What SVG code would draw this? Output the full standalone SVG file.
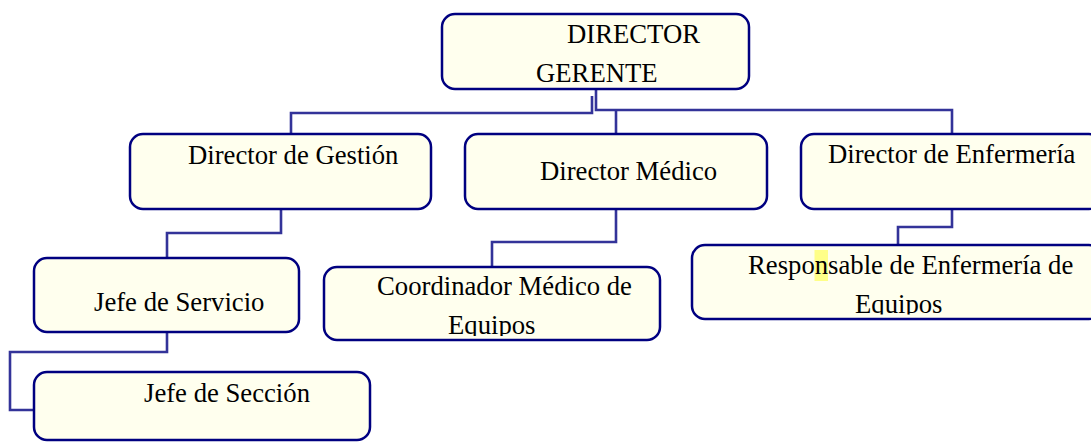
<svg xmlns="http://www.w3.org/2000/svg" width="1091" height="442" viewBox="0 0 1091 442">
  <style>
    .box { fill: #FFFFEE; stroke: #000080; stroke-width: 2.5; }
    .lbl { font-family: "Liberation Serif", "Times New Roman", serif; font-size: 26.7px; fill: #000000; }
    .conn { fill: none; stroke: #333399; stroke-width: 2.6; }
  </style>
  <defs>
    <clipPath id="clipCoord"><rect x="324" y="267" width="336" height="69"/></clipPath>
    <clipPath id="clipResp"><rect x="692" y="245" width="410" height="69.5"/></clipPath>
  </defs>
  <rect width="1091" height="442" fill="#FFFFFF"/>

  <g id="connectors">
    <path class="conn" d="M596,89 V110 H952 V134"/>
    <path class="conn" d="M616,110 V134"/>
    <path class="conn" d="M592,96 V113 H291 V134"/>
    <path class="conn" d="M281,209 V233 H167 V258"/>
    <path class="conn" d="M167,332 V352 H10 V410 H34"/>
    <path class="conn" d="M616,209 V242 H492 V267"/>
    <path class="conn" d="M952,209 V227 H898 V245"/>
  </g>

  <g id="director-gerente">
    <rect class="box" x="442" y="14" width="307" height="75" rx="13"/>
    <text class="lbl" x="567" y="43">DIRECTOR</text>
    <text class="lbl" x="536" y="82">GERENTE</text>
  </g>

  <g id="director-gestion">
    <rect class="box" x="130" y="134" width="301" height="75" rx="13"/>
    <text class="lbl" x="188" y="164">Director de Gestión</text>
  </g>

  <g id="director-medico">
    <rect class="box" x="465" y="134" width="302" height="75" rx="13"/>
    <text class="lbl" x="540" y="180">Director Médico</text>
  </g>

  <g id="director-enfermeria">
    <rect class="box" x="801" y="134" width="301" height="75" rx="13"/>
    <text class="lbl" x="828" y="163">Director de Enfermería</text>
  </g>

  <g id="jefe-servicio">
    <rect class="box" x="34" y="258" width="265" height="74" rx="13"/>
    <text class="lbl" x="94" y="311">Jefe de Servicio</text>
  </g>

  <g id="coordinador-medico">
    <rect class="box" x="324" y="267" width="336" height="73" rx="13"/>
    <g clip-path="url(#clipCoord)">
      <text class="lbl" x="377" y="295">Coordinador Médico de</text>
      <text class="lbl" x="448" y="334">Equipos</text>
    </g>
  </g>

  <g id="responsable-enfermeria">
    <rect class="box" x="692" y="245" width="410" height="74" rx="13"/>
    <rect x="814.5" y="250" width="13.5" height="31" fill="#FFFF88"/>
    <g clip-path="url(#clipResp)">
      <text class="lbl" x="748" y="274">Responsable de Enfermería de</text>
      <text class="lbl" x="855" y="313">Equipos</text>
    </g>
  </g>

  <g id="jefe-seccion">
    <rect class="box" x="34" y="372" width="336" height="68" rx="13"/>
    <text class="lbl" x="144" y="402">Jefe de Sección</text>
  </g>
</svg>
